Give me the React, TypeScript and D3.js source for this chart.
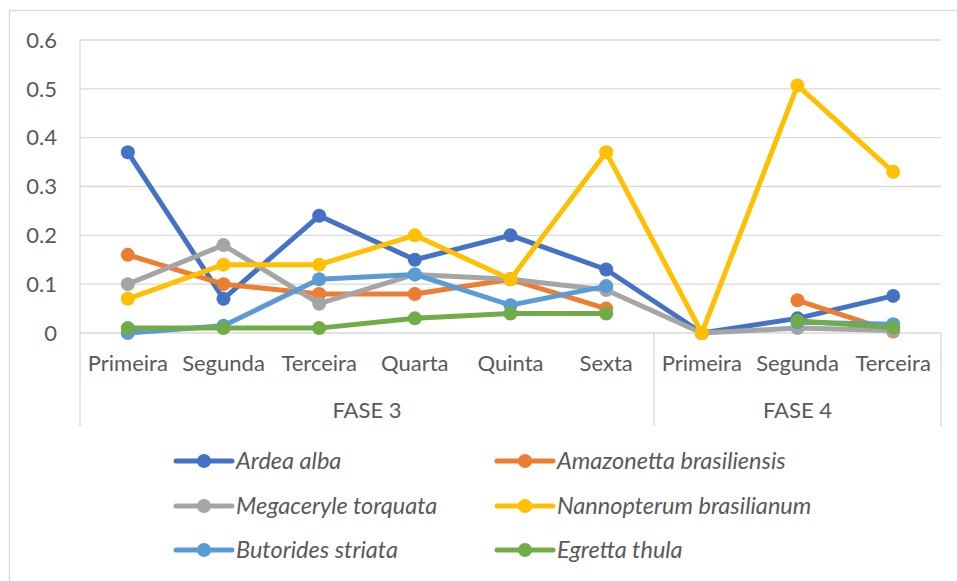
import React from "react";
import * as d3 from "d3";

const categories = ["Primeira", "Segunda", "Terceira", "Quarta", "Quinta", "Sexta", "Primeira", "Segunda", "Terceira"];
const groups = [
  { label: "FASE 3", start: 0, end: 6 },
  { label: "FASE 4", start: 6, end: 9 },
];
const yTicks = [0, 0.1, 0.2, 0.3, 0.4, 0.5, 0.6];

const seriesNames = [
  "Ardea alba",
  "Amazonetta brasiliensis",
  "Megaceryle torquata",
  "Nannopterum brasilianum",
  "Butorides striata",
  "Egretta thula",
];
const seriesColors = ["#4472C4", "#ED7D31", "#A5A5A5", "#FFC000", "#5B9BD5", "#70AD47"];

const ardeaAlba = [0.37, 0.07, 0.24, 0.15, 0.2, 0.13, 0, 0.03, 0.076];
const amazonetta = [0.16, 0.1, 0.08, 0.08, 0.11, 0.05, null, 0.067, 0.003];
const megaceryle = [0.1, 0.18, 0.06, 0.12, 0.11, 0.088, 0, 0.01, 0.005];
const nannopterum = [0.07, 0.14, 0.14, 0.2, 0.11, 0.37, 0, 0.507, 0.33];
const butorides = [0, 0.015, 0.11, 0.12, 0.057, 0.096, null, 0.022, 0.018];
const egretta = [0.01, 0.01, 0.01, 0.03, 0.04, 0.04, null, 0.025, 0.011];

const seriesValues = [ardeaAlba, amazonetta, megaceryle, nannopterum, butorides, egretta];

export default function App() {
  const W = 957, H = 581;
  const left = 80, right = 941, top = 40, bottom = 333;
  const x = d3.scaleBand<number>().domain(d3.range(categories.length)).range([left, right]);
  const y = d3.scaleLinear().domain([0, 0.6]).range([bottom, top]);
  const cx = (i: number) => (x(i) as number) + x.bandwidth() / 2;
  const line = d3
    .line<number | null>()
    .defined((d) => d !== null)
    .x((_, i) => cx(i))
    .y((d) => y(d as number));

  const grid = "#D9D9D9";
  const textColor = "#595959";
  const font = "Lato, 'Open Sans', sans-serif";
  const sepBottom = 426;

  const legendRows = [461, 506, 550];
  const legendCols = [176, 497];

  return (
    <svg width={W} height={H} style={{ position: "absolute", left: 0, top: 0, background: "#fff" }} fontFamily={font}>
      <rect x={9.5} y={10.5} width={W + 10} height={H + 10} fill="#fff" stroke={grid} strokeWidth={1.3} />
      {yTicks.map((t) => (
        <g key={t}>
          <line x1={left} x2={right} y1={y(t)} y2={y(t)} stroke={grid} strokeWidth={1.3} />
          <text x={57} y={y(t)} dy="0.35em" textAnchor="end" fontSize={22} fill={textColor}>
            {t === 0 ? "0" : t.toFixed(1)}
          </text>
        </g>
      ))}
      <line x1={left} x2={left} y1={top} y2={sepBottom} stroke={grid} strokeWidth={1.3} />
      {groups.slice(1).map((g) => (
        <line key={g.label} x1={x(g.start) as number} x2={x(g.start) as number} y1={bottom} y2={sepBottom} stroke={grid} strokeWidth={1.3} />
      ))}
      <line x1={right} x2={right} y1={bottom} y2={sepBottom} stroke={grid} strokeWidth={1.3} />
      {categories.map((c, i) => (
        <text key={i} x={cx(i)} y={363} dy="0.35em" textAnchor="middle" fontSize={22} fill={textColor}>
          {c}
        </text>
      ))}
      {groups.map((g) => {
        const gx = ((x(g.start) as number) + ((x(g.end - 1) as number) + x.bandwidth())) / 2;
        return (
          <text key={g.label} x={gx} y={410} dy="0.35em" textAnchor="middle" fontSize={22} fill={textColor}>
            {g.label}
          </text>
        );
      })}
      {seriesValues.map((vals, s) => (
        <g key={s}>
          <path d={line(vals) || ""} fill="none" stroke={seriesColors[s]} strokeWidth={5} strokeLinejoin="round" strokeLinecap="round" />
          {vals.map((v, i) =>
            v === null ? null : <circle key={i} cx={cx(i)} cy={y(v)} r={7} fill={seriesColors[s]} />
          )}
        </g>
      ))}
      {seriesNames.map((name, s) => {
        const col = s % 2;
        const row = Math.floor(s / 2);
        const lx = legendCols[col];
        const ly = legendRows[row];
        return (
          <g key={name}>
            <line x1={lx} x2={lx + 56} y1={ly} y2={ly} stroke={seriesColors[s]} strokeWidth={5} strokeLinecap="round" />
            <circle cx={lx + 28} cy={ly} r={7} fill={seriesColors[s]} />
            <text x={lx + 60} y={ly} dy="0.35em" fontSize={23.5} fontStyle="italic" fill={textColor}>
              {name}
            </text>
          </g>
        );
      })}
    </svg>
  );
}
